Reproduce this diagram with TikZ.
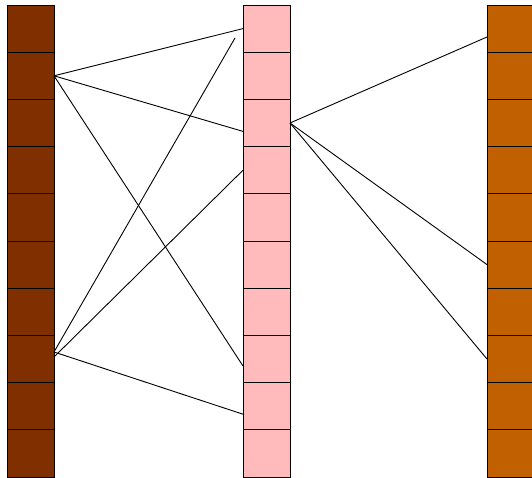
\documentclass[tikz,border=0pt]{standalone}
\usetikzlibrary{positioning}
\definecolor{leftbrown}{RGB}{128,48,0}
\definecolor{midpink}{RGB}{255,187,187}
\definecolor{rightorange}{RGB}{192,96,0}
\tikzset{
  cell/.style={draw=black, line width=0.8pt, minimum width=47pt,
    minimum height=47.2pt, inner sep=0pt, outer sep=0pt},
  link/.style={draw=black, line width=0.9pt}
}

\begin{document}
\begin{tikzpicture}[x=1pt,y=1pt]
  \useasboundingbox (0,0) rectangle (532,477);
  % three columns of ten cells
  \foreach \i in {0,...,9} {
    \node[cell, fill=leftbrown] (L\i) at (30.5, {472-47.2*(\i+0.5)}) {};
    \node[cell, fill=midpink] (M\i) at (266.5, {472-47.2*(\i+0.5)}) {};
    \node[cell, fill=rightorange] (R\i) at (510.5, {472-47.2*(\i+0.5)}) {};
  }
  % links left -> middle
  \draw[link] (L1.east) -- (M0.west);
  \draw[link] (L1.east) -- ([yshift=-8.4pt]M2.west);
  \draw[link] (L1.east) -- ([yshift=-7pt]M7.west);
  \coordinate (tip) at ([xshift=-8pt,yshift=-9.4pt]M0.west);
  \draw[link] ([yshift=7pt]L7.east) -- (tip);
  \draw[link] ([yshift=2pt]L7.east) -- (M3.west);
  \draw[link] ([yshift=7pt]L7.east) -- ([yshift=-8pt]M8.west);
  % links middle -> right
  \draw[link] (M2.east) -- ([yshift=-8.4pt]R0.west);
  \draw[link] (M2.east) -- (R5.west);
  \draw[link] (M2.east) -- (R7.west);
\end{tikzpicture}
\end{document}
